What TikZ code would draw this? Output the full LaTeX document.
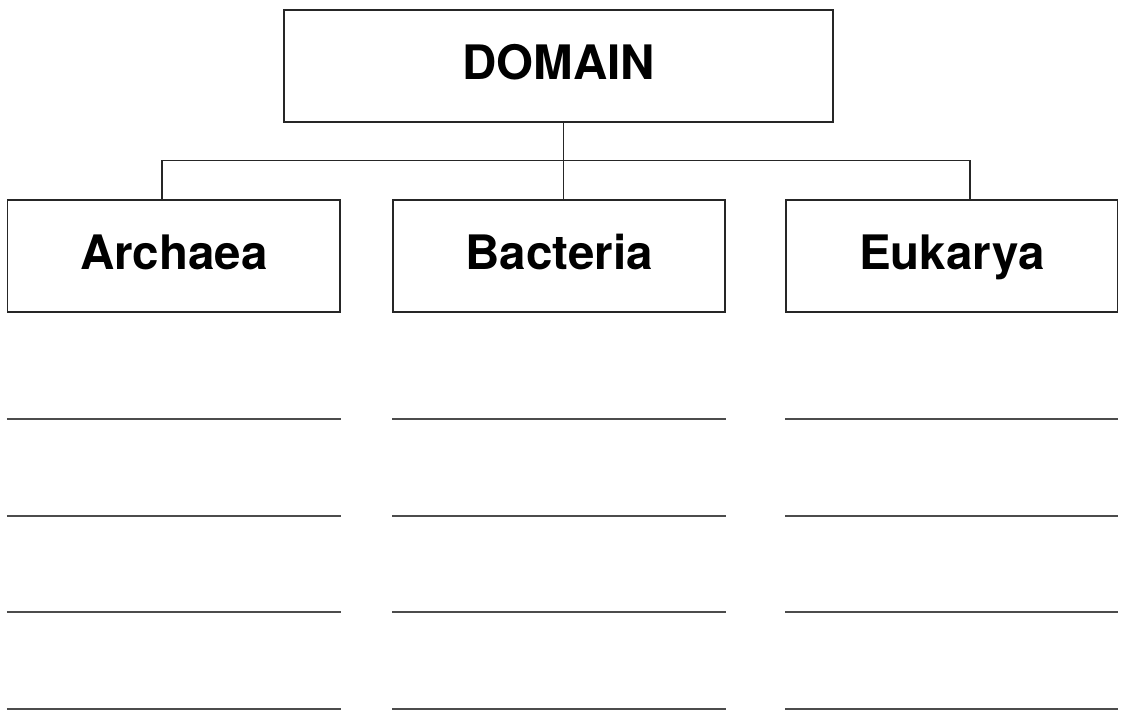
\documentclass[tikz,border=0pt]{standalone}
\usepackage{fontspec}
\setmainfont{TeX Gyre Heros}
\begin{document}
\begin{tikzpicture}[x=1pt,y=-1pt,
  catbox/.style={draw=black!85,line width=1.3pt,rectangle,inner sep=0pt,
    minimum height=112pt,text height=34pt,text depth=6pt,
    font=\fontsize{47.5}{57}\selectfont\bfseries},
  conn/.style={draw=black!85,line width=1.1pt},
  blank/.style={draw=black!70,line width=2pt}]
\useasboundingbox[fill=white] (0,0) rectangle (1128,719);
\node[catbox,minimum width=549pt] (domain) at (558.5,66) {DOMAIN};
\node[catbox,minimum width=332.5pt] (arch) at (173.75,256) {Archaea};
\node[catbox,minimum width=332pt] (bact) at (559,256) {Bacteria};
\node[catbox,minimum width=331.5pt] (euk) at (951.75,256) {Eukarya};
\coordinate (busL) at (162,160.5);
\coordinate (busM) at (563.5,160.5);
\coordinate (busR) at (970,160.5);
\draw[conn] (busM |- domain.south) -- (busM);
\draw[conn] (busL |- arch.north) -- (busL) -- (busR) -- (busR |- euk.north);
\draw[conn] (busM) -- (busM |- bact.north);
\foreach \y in {419.5,515.5,612,708.5}{
  \draw[blank] (arch.west |- 0,\y) -- (arch.east |- 0,\y);
  \draw[blank] (bact.west |- 0,\y) -- (bact.east |- 0,\y);
  \draw[blank] (euk.west |- 0,\y) -- (euk.east |- 0,\y);
}
\end{tikzpicture}
\end{document}
